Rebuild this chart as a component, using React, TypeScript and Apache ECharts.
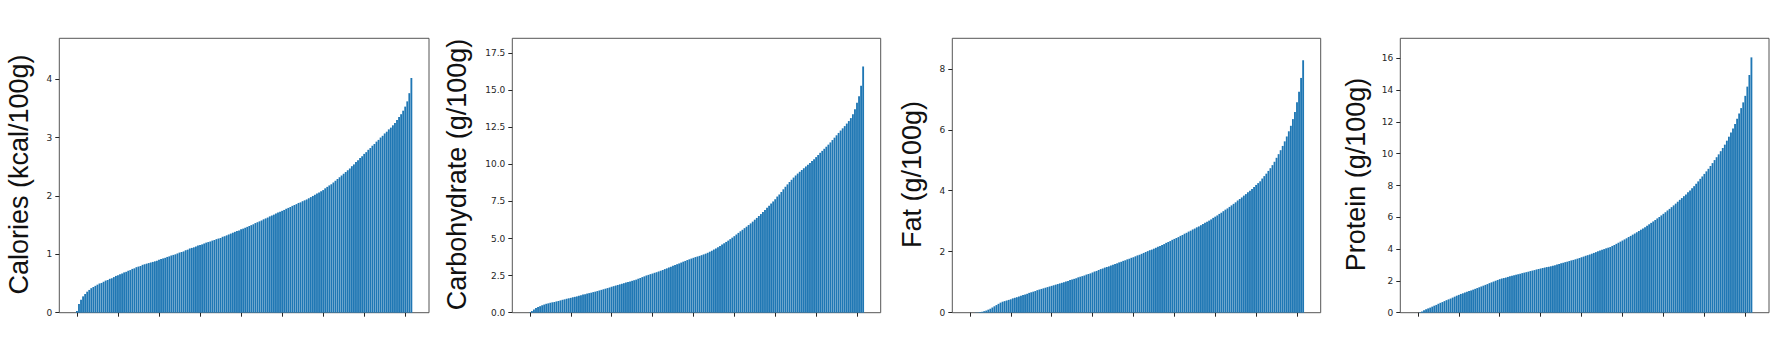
import React, { useEffect, useRef } from 'react';
import * as echarts from 'echarts';

// Sorted values per food item (each bar ~ one group of items)
const calories = [
  0.03, 0.15, 0.22, 0.28, 0.32, 0.36, 0.39, 0.42, 0.44, 0.46,
  0.48, 0.50, 0.51, 0.53, 0.55, 0.56, 0.58, 0.59, 0.61, 0.63,
  0.64, 0.66, 0.67, 0.69, 0.70, 0.72, 0.73, 0.75, 0.76, 0.78,
  0.79, 0.80, 0.82, 0.83, 0.84, 0.85, 0.86, 0.87, 0.88, 0.89,
  0.905, 0.92, 0.93, 0.94, 0.955, 0.965, 0.98, 0.99, 1.00, 1.015,
  1.03, 1.04, 1.05, 1.07, 1.08, 1.10, 1.11, 1.12, 1.135, 1.15,
  1.16, 1.17, 1.185, 1.20, 1.21, 1.22, 1.235, 1.245, 1.26, 1.27,
  1.28, 1.30, 1.31, 1.325, 1.34, 1.355, 1.37, 1.385, 1.40, 1.41,
  1.43, 1.44, 1.455, 1.47, 1.485, 1.50, 1.515, 1.535, 1.55, 1.565,
  1.58, 1.60, 1.615, 1.63, 1.65, 1.665, 1.68, 1.70, 1.715, 1.73,
  1.745, 1.76, 1.78, 1.795, 1.81, 1.83, 1.845, 1.86, 1.88, 1.89,
  1.91, 1.925, 1.94, 1.96, 1.98, 2.00, 2.02, 2.04, 2.06, 2.08,
  2.10, 2.13, 2.155, 2.18, 2.20, 2.23, 2.26, 2.29, 2.32, 2.35,
  2.38, 2.41, 2.44, 2.47, 2.51, 2.54, 2.58, 2.61, 2.65, 2.68,
  2.72, 2.75, 2.79, 2.82, 2.86, 2.89, 2.93, 2.96, 3.00, 3.03,
  3.07, 3.10, 3.14, 3.17, 3.21, 3.25, 3.30, 3.35, 3.40, 3.46,
  3.53, 3.62, 3.76, 4.02,
];

const carbohydrate = [
  0.02, 0.11, 0.22, 0.31, 0.38, 0.44, 0.50, 0.55, 0.60, 0.63,
  0.67, 0.70, 0.72, 0.76, 0.79, 0.83, 0.87, 0.90, 0.94, 0.97,
  1.00, 1.04, 1.07, 1.10, 1.14, 1.18, 1.22, 1.25, 1.29, 1.32,
  1.35, 1.39, 1.42, 1.46, 1.50, 1.54, 1.58, 1.62, 1.66, 1.70,
  1.75, 1.79, 1.83, 1.87, 1.91, 1.95, 1.99, 2.03, 2.07, 2.11,
  2.15, 2.19, 2.23, 2.29, 2.34, 2.40, 2.45, 2.51, 2.55, 2.60,
  2.64, 2.69, 2.73, 2.78, 2.83, 2.88, 2.94, 2.99, 3.05, 3.10,
  3.16, 3.22, 3.27, 3.32, 3.38, 3.44, 3.49, 3.55, 3.60, 3.65,
  3.70, 3.75, 3.79, 3.83, 3.88, 3.93, 3.98, 4.04, 4.11, 4.18,
  4.26, 4.33, 4.42, 4.50, 4.59, 4.68, 4.77, 4.86, 4.96, 5.06,
  5.16, 5.27, 5.38, 5.49, 5.59, 5.70, 5.80, 5.91, 6.02, 6.14,
  6.27, 6.39, 6.52, 6.65, 6.79, 6.92, 7.07, 7.21, 7.36, 7.50,
  7.65, 7.83, 7.97, 8.14, 8.32, 8.49, 8.65, 8.81, 8.96, 9.11,
  9.25, 9.38, 9.50, 9.62, 9.74, 9.86, 9.97, 10.09, 10.22, 10.35,
  10.49, 10.63, 10.78, 10.91, 11.05, 11.19, 11.33, 11.48, 11.64, 11.80,
  11.96, 12.12, 12.28, 12.43, 12.58, 12.75, 12.92, 13.12, 13.38, 13.72,
  14.15, 14.60, 15.30, 16.60,
];

const fat = [
  0, 0, 0, 0.01, 0.01, 0.02, 0.03, 0.05, 0.07, 0.10,
  0.13, 0.17, 0.21, 0.25, 0.29, 0.33, 0.36, 0.38, 0.40, 0.42,
  0.44, 0.47, 0.49, 0.51, 0.53, 0.56, 0.58, 0.60, 0.62, 0.65,
  0.67, 0.69, 0.71, 0.74, 0.76, 0.78, 0.80, 0.82, 0.84, 0.86,
  0.88, 0.90, 0.92, 0.94, 0.96, 0.98, 1.00, 1.02, 1.04, 1.07,
  1.09, 1.11, 1.13, 1.16, 1.18, 1.20, 1.22, 1.25, 1.27, 1.29,
  1.32, 1.35, 1.37, 1.40, 1.43, 1.45, 1.48, 1.50, 1.52, 1.55,
  1.57, 1.60, 1.62, 1.65, 1.67, 1.70, 1.72, 1.75, 1.77, 1.80,
  1.82, 1.85, 1.88, 1.90, 1.93, 1.96, 1.99, 2.02, 2.05, 2.07,
  2.10, 2.13, 2.16, 2.19, 2.22, 2.25, 2.29, 2.32, 2.35, 2.39,
  2.42, 2.45, 2.48, 2.52, 2.55, 2.59, 2.62, 2.66, 2.69, 2.73,
  2.76, 2.80, 2.83, 2.87, 2.91, 2.95, 2.98, 3.02, 3.06, 3.11,
  3.15, 3.19, 3.24, 3.28, 3.33, 3.38, 3.42, 3.47, 3.52, 3.57,
  3.62, 3.68, 3.73, 3.78, 3.84, 3.89, 3.95, 4.00, 4.06, 4.12,
  4.19, 4.25, 4.31, 4.40, 4.48, 4.56, 4.65, 4.74, 4.84, 4.95,
  5.08, 5.20, 5.33, 5.47, 5.62, 5.78, 5.95, 6.13, 6.35, 6.58,
  6.90, 7.25, 7.70, 8.28,
];

const protein = [
  0, 0.02, 0.08, 0.15, 0.22, 0.27, 0.32, 0.38, 0.44, 0.49,
  0.56, 0.62, 0.67, 0.73, 0.79, 0.84, 0.89, 0.95, 1.01, 1.07,
  1.12, 1.18, 1.22, 1.27, 1.31, 1.36, 1.40, 1.45, 1.50, 1.55,
  1.60, 1.65, 1.70, 1.75, 1.80, 1.86, 1.91, 1.96, 2.01, 2.06,
  2.11, 2.15, 2.18, 2.21, 2.25, 2.29, 2.32, 2.36, 2.39, 2.42,
  2.45, 2.49, 2.52, 2.55, 2.58, 2.62, 2.65, 2.68, 2.72, 2.75,
  2.78, 2.81, 2.84, 2.87, 2.89, 2.92, 2.96, 2.99, 3.03, 3.07,
  3.11, 3.14, 3.18, 3.21, 3.25, 3.29, 3.32, 3.36, 3.40, 3.44,
  3.49, 3.53, 3.58, 3.62, 3.66, 3.71, 3.76, 3.81, 3.87, 3.92,
  3.96, 4.00, 4.05, 4.09, 4.13, 4.20, 4.26, 4.33, 4.40, 4.47,
  4.54, 4.61, 4.68, 4.76, 4.83, 4.91, 4.98, 5.06, 5.14, 5.22,
  5.30, 5.38, 5.47, 5.56, 5.65, 5.74, 5.83, 5.93, 6.02, 6.12,
  6.22, 6.32, 6.43, 6.53, 6.64, 6.75, 6.86, 6.98, 7.10, 7.21,
  7.33, 7.44, 7.57, 7.69, 7.83, 7.96, 8.11, 8.26, 8.42, 8.57,
  8.73, 8.89, 9.05, 9.23, 9.41, 9.60, 9.78, 9.96, 10.16, 10.36,
  10.57, 10.82, 11.07, 11.33, 11.59, 11.87, 12.20, 12.53, 12.87, 13.23,
  13.64, 14.22, 14.95, 16.06,
];

const yTitles = ['Calories (kcal/100g)', 'Carbohydrate (g/100g)', 'Fat (g/100g)', 'Protein (g/100g)'];
const yMaxes = [4.7, 18.5, 9.0, 17.26];
const yTickValues = [
  [0, 1, 2, 3, 4],
  [0, 2.5, 5, 7.5, 10, 12.5, 15, 17.5],
  [0, 2, 4, 6, 8],
  [0, 2, 4, 6, 8, 10, 12, 14, 16],
];
const yDecimals = [0, 1, 0, 0];
const xTickValues = [0, 20, 40, 60, 80, 100, 120, 140, 160];

const seriesValues = [calories, carbohydrate, fat, protein];

// layout (pixels)
const gridBoxes = [
  { left: 59.3, width: 369.7 },
  { left: 512.3, width: 368.4 },
  { left: 952.3, width: 368.4 },
  { left: 1400.3, width: 368.7 },
];
const titleX = [19, 456.5, 911.5, 1355.5];
const GRID_TOP = 38.3;
const GRID_H = 274.4;
const AXIS_COLOR = '#555';
const TEXT_COLOR = '#262626';

export default function App() {
  const ref = useRef<HTMLDivElement>(null);

  useEffect(() => {
    if (!ref.current) return;
    const chart = echarts.init(ref.current, null, { renderer: 'svg' });

    const n = calories.length;
    const xMin = -0.4 - 0.05 * (n - 0.2);
    const xMax = n - 0.6 + 0.05 * (n - 0.2);

    const hiddenLine = { show: true, onZero: false, lineStyle: { color: AXIS_COLOR, width: 1, opacity: 0 } };

    const option: any = {
      animation: false,
      backgroundColor: '#fff',
      grid: gridBoxes.map((g) => ({
        left: g.left,
        top: GRID_TOP,
        width: g.width,
        height: GRID_H,
        show: true,
        borderColor: AXIS_COLOR,
        borderWidth: 1,
        backgroundColor: 'transparent',
        containLabel: false,
      })),
      xAxis: gridBoxes.map((_, k) => ({
        type: 'value',
        gridIndex: k,
        position: 'bottom',
        min: xMin,
        max: xMax,
        axisLine: hiddenLine,
        axisTick: {
          show: true,
          customValues: xTickValues,
          length: 4,
          inside: false,
          lineStyle: { color: TEXT_COLOR, width: 1, opacity: 1 },
        },
        axisLabel: { show: false },
        splitLine: { show: false },
      })),
      yAxis: gridBoxes.map((_, k) => ({
        type: 'value',
        gridIndex: k,
        position: 'left',
        min: 0,
        max: yMaxes[k],
        axisLine: hiddenLine,
        axisTick: {
          show: true,
          customValues: yTickValues[k],
          length: 4,
          inside: false,
          lineStyle: { color: TEXT_COLOR, width: 1, opacity: 1 },
        },
        axisLabel: {
          show: true,
          customValues: yTickValues[k],
          formatter: (v: number) => Number(v).toFixed(yDecimals[k]),
          fontSize: 9,
          fontFamily: 'DejaVu Sans',
          color: TEXT_COLOR,
          margin: 7,
        },
        splitLine: { show: false },
      })),
      series: seriesValues.map((vals, k) => ({
        type: 'bar',
        xAxisIndex: k,
        yAxisIndex: k,
        barWidth: 1.85,
        itemStyle: { color: '#1f77b4' },
        data: vals.map((v, i) => [i, v]),
      })),
      graphic: yTitles.map((t, k) => ({
        type: 'text',
        x: titleX[k],
        y: 174.5,
        rotation: Math.PI / 2,
        style: {
          text: t,
          fontSize: 27,
          fontFamily: 'Liberation Sans, Arial, sans-serif',
          fill: '#111',
          textAlign: 'center',
          textVerticalAlign: 'middle',
          align: 'center',
          verticalAlign: 'middle',
        },
      })),
    };

    chart.setOption(option);
    return () => chart.dispose();
  }, []);

  return (
    <div
      ref={ref}
      style={{ position: 'absolute', left: 0, top: 0, width: 1773, height: 355, background: '#fff' }}
    />
  );
}
